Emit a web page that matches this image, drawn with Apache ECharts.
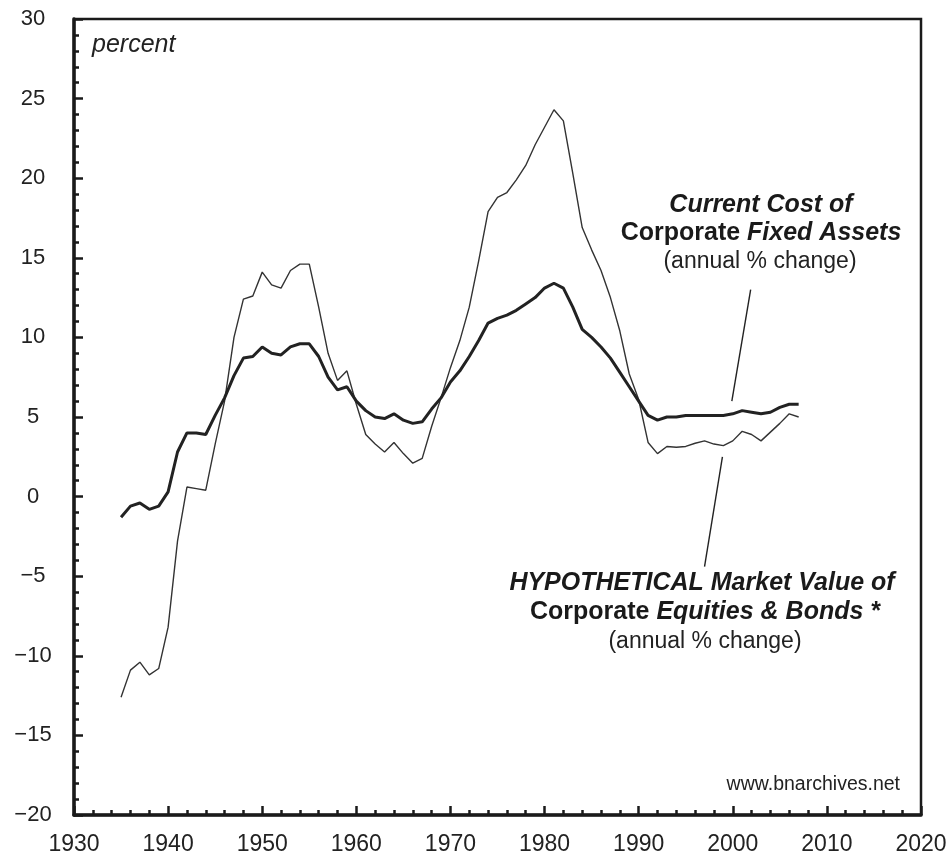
<!DOCTYPE html>
<html>
<head>
<meta charset="utf-8">
<title>Corporate fixed assets vs hypothetical market value</title>
<script src="https://cdn.jsdelivr.net/npm/echarts@6.0.0/dist/echarts.min.js"></script>
<style>
  html, body { margin: 0; padding: 0; background: #fff; }
  #chart { width: 952px; height: 856px; }
</style>
</head>
<body>
<div id="chart"></div>
<script>
// annual data
const years = [
  1935, 1936, 1937, 1938, 1939, 1940, 1941, 1942, 1943, 1944,
  1945, 1946, 1947, 1948, 1949, 1950, 1951, 1952, 1953, 1954,
  1955, 1956, 1957, 1958, 1959, 1960, 1961, 1962, 1963, 1964,
  1965, 1966, 1967, 1968, 1969, 1970, 1971, 1972, 1973, 1974,
  1975, 1976, 1977, 1978, 1979, 1980, 1981, 1982, 1983, 1984,
  1985, 1986, 1987, 1988, 1989, 1990, 1991, 1992, 1993, 1994,
  1995, 1996, 1997, 1998, 1999, 2000, 2001, 2002, 2003, 2004,
  2005, 2006, 2007
];

// Current Cost of Corporate Fixed Assets (thick line)
const fixedAssets = [
  -1.3, -0.6, -0.4, -0.8, -0.6, 0.3, 2.8, 4.0, 4.0, 3.9,
  5.1, 6.2, 7.6, 8.7, 8.8, 9.4, 9.0, 8.9, 9.4, 9.6,
  9.6, 8.8, 7.5, 6.7, 6.9, 6.0, 5.4, 5.0, 4.9, 5.2,
  4.8, 4.6, 4.7, 5.5, 6.2, 7.2, 7.9, 8.8, 9.8, 10.9,
  11.2, 11.4, 11.7, 12.1, 12.5, 13.1, 13.4, 13.1, 11.9, 10.5,
  10.0, 9.4, 8.7, 7.8, 6.9, 6.0, 5.1, 4.8, 5.0, 5.0,
  5.1, 5.1, 5.1, 5.1, 5.1, 5.2, 5.4, 5.3, 5.2, 5.3,
  5.6, 5.8, 5.8
];

// HYPOTHETICAL Market Value of Corporate Equities & Bonds (thin line)
const marketValue = [
  -12.6, -10.9, -10.4, -11.2, -10.8, -8.2, -2.8, 0.6, 0.5, 0.4,
  3.3, 6.0, 10.0, 12.4, 12.6, 14.1, 13.3, 13.1, 14.2, 14.6,
  14.6, 11.9, 9.0, 7.3, 7.9, 5.8, 3.9, 3.3, 2.8, 3.4,
  2.7, 2.1, 2.4, 4.4, 6.2, 8.1, 9.8, 11.9, 14.8, 17.9,
  18.8, 19.1, 19.9, 20.8, 22.1, 23.2, 24.3, 23.6, 20.3, 16.9,
  15.5, 14.2, 12.5, 10.4, 7.7, 6.1, 3.4, 2.7, 3.15, 3.1,
  3.15, 3.35, 3.5, 3.3, 3.2, 3.5, 4.1, 3.9, 3.5, 4.05,
  4.6, 5.2, 5.0
];

// leader lines from the labels to the curves, [year, percent]
const fixedAssetsPointer = [[2001.9, 13.0], [1999.9, 6.0]];
const marketValuePointer = [[1997.0, -4.4], [1998.9, 2.5]];

const FONT = '"Liberation Sans", Arial, Helvetica, sans-serif';
const INK = '#1a1a1a';

const toPairs = (xs, ys) => xs.map((x, i) => [x, ys[i]]);

const chart = echarts.init(document.getElementById('chart'));

const option = {
  backgroundColor: '#fff',
  animation: false,
  grid: {
    left: 74,
    right: 31,
    top: 19,
    bottom: 41,
    show: true,
    borderColor: INK,
    borderWidth: 2.5,
    backgroundColor: 'transparent'
  },
  xAxis: {
    type: 'value',
    min: 1930,
    max: 2020,
    interval: 10,
    axisLine: { show: true, onZero: false, lineStyle: { color: INK, width: 3.5 } },
    axisTick: { show: true, inside: true, length: 9, lineStyle: { color: INK, width: 2.5 } },
    minorTick: { show: true, splitNumber: 5, length: 5, lineStyle: { color: INK, width: 2.5 } },
    splitLine: { show: false },
    axisLabel: {
      color: '#222',
      fontFamily: FONT,
      fontSize: 23,
      margin: 18,
      formatter: (v) => String(v)
    }
  },
  yAxis: {
    type: 'value',
    min: -20,
    max: 30,
    interval: 5,
    axisLine: { show: true, onZero: false, lineStyle: { color: INK, width: 3.5 } },
    axisTick: { show: true, inside: true, length: 9, lineStyle: { color: INK, width: 2.5 } },
    minorTick: { show: true, splitNumber: 5, length: 5, lineStyle: { color: INK, width: 2.5 } },
    splitLine: { show: false },
    axisLabel: {
      color: '#222',
      fontFamily: FONT,
      fontSize: 22,
      align: 'center',
      margin: 41,
      formatter: (v) => (v < 0 ? '\u2212' + Math.abs(v) : String(v))
    }
  },
  series: [
    {
      name: 'HYPOTHETICAL Market Value of Corporate Equities & Bonds',
      type: 'line',
      data: toPairs(years, marketValue),
      symbol: 'none',
      lineStyle: { color: '#333', width: 1.4 },
      z: 2
    },
    {
      name: 'Current Cost of Corporate Fixed Assets',
      type: 'line',
      data: toPairs(years, fixedAssets),
      symbol: 'none',
      lineStyle: { color: '#222', width: 3 },
      z: 3,
      markLine: {
        silent: true,
        symbol: 'none',
        label: { show: false },
        lineStyle: { color: '#222', width: 1.4, type: 'solid' },
        data: [
          [{ coord: fixedAssetsPointer[0] }, { coord: fixedAssetsPointer[1] }],
          [{ coord: marketValuePointer[0] }, { coord: marketValuePointer[1] }]
        ]
      }
    }
  ],
  graphic: [
    {
      type: 'text', x: 92, y: 45,
      style: {
        text: 'percent', font: 'italic 25px ' + FONT, fill: '#222',
        textAlign: 'left', textVerticalAlign: 'middle'
      }
    },
    {
      type: 'text', x: 761, y: 205,
      style: {
        text: 'Current Cost of', font: 'italic bold 25px ' + FONT, fill: '#1a1a1a',
        textAlign: 'center', textVerticalAlign: 'middle'
      }
    },
    {
      type: 'text', x: 761, y: 233,
      style: {
        text: '{u|Corporate }{i|Fixed Assets}', fill: '#1a1a1a',
        textAlign: 'center', textVerticalAlign: 'middle',
        rich: {
          u: { font: 'bold 25px ' + FONT, fill: '#1a1a1a' },
          i: { font: 'italic bold 25px ' + FONT, fill: '#1a1a1a' }
        }
      }
    },
    {
      type: 'text', x: 760, y: 262,
      style: {
        text: '(annual % change)', font: '23px ' + FONT, fill: '#222',
        textAlign: 'center', textVerticalAlign: 'middle'
      }
    },
    {
      type: 'text', x: 702, y: 583,
      style: {
        text: 'HYPOTHETICAL Market Value of', font: 'italic bold 25px ' + FONT, fill: '#1a1a1a',
        textAlign: 'center', textVerticalAlign: 'middle'
      }
    },
    {
      type: 'text', x: 705, y: 612,
      style: {
        text: '{u|Corporate }{i|Equities & Bonds *}', fill: '#1a1a1a',
        textAlign: 'center', textVerticalAlign: 'middle',
        rich: {
          u: { font: 'bold 25px ' + FONT, fill: '#1a1a1a' },
          i: { font: 'italic bold 25px ' + FONT, fill: '#1a1a1a' }
        }
      }
    },
    {
      type: 'text', x: 705, y: 642,
      style: {
        text: '(annual % change)', font: '23px ' + FONT, fill: '#222',
        textAlign: 'center', textVerticalAlign: 'middle'
      }
    },
    {
      type: 'text', x: 900, y: 785,
      style: {
        text: 'www.bnarchives.net', font: '19.5px ' + FONT, fill: '#222',
        textAlign: 'right', textVerticalAlign: 'middle'
      }
    }
  ]
};

chart.setOption(option);
window.addEventListener('resize', () => chart.resize());
</script>
</body>
</html>
